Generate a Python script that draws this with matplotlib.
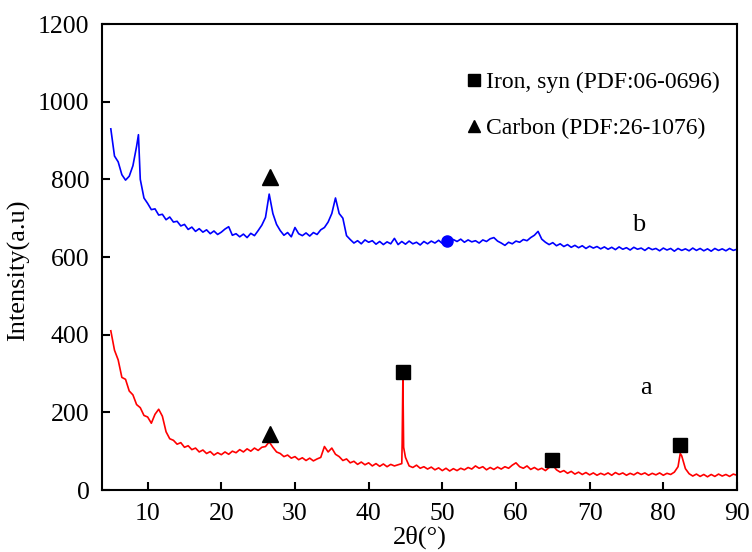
import numpy as np
import matplotlib
matplotlib.use('Agg')
import matplotlib.pyplot as plt
from matplotlib.lines import Line2D

plt.rcParams['font.family'] = ['Liberation Serif', 'DejaVu Serif']
plt.rcParams['mathtext.fontset'] = 'stix'

# 2θ 샘플 위치 (0.5° 간격)
two_theta = np.arange(5.0, 90.01, 0.5)

# 곡선 b (파란색) - 그림에서 읽은 값
b_int = [930, 860, 845, 812, 798, 808, 835, 885, 800, 752,
         738, 722, 724, 708, 710, 696, 703, 690, 692, 680,
         684, 671, 677, 666, 673, 664, 670, 660, 667, 658,
         664, 672, 678, 656, 660, 652, 659, 650, 661, 655,
         668, 682, 702, 762, 712, 684, 668, 656, 663, 652,
         676, 660, 655, 662, 654, 663, 658, 670, 676, 690,
         712, 752, 712, 700, 655, 645, 636, 642, 634, 644,
         638, 642, 633, 640, 632, 639, 634, 648, 632, 640,
         633, 641, 634, 638, 631, 640, 634, 641, 636, 643,
         635, 641, 637, 645, 640, 646, 638, 644, 639, 642,
         636, 644, 640, 647, 650, 641, 636, 630, 638, 634,
         641, 638, 645, 642, 650, 656, 666, 646, 638, 632,
         637, 629, 634, 627, 632, 625, 630, 624, 629, 622,
         628, 623, 627, 621, 626, 620, 625, 619, 626, 620,
         624, 618, 625, 620, 623, 617, 624, 619, 622, 616,
         623, 618, 622, 615, 622, 617, 621, 616, 623, 617,
         622, 616, 621, 615, 622, 617, 621, 616, 622, 617,
         620]
b_peak_x = [8.75]
b_peak_y = [915]

# 곡선 a (빨간색)
a_int = [410, 360, 335, 290, 285, 255, 245, 220, 212, 192,
         188, 172, 195, 208, 190, 150, 132, 128, 118, 122,
         110, 114, 104, 108, 98, 103, 94, 99, 90, 96,
         91, 98, 92, 100, 96, 104, 98, 106, 100, 108,
         102, 110, 112, 124, 110, 98, 94, 86, 90, 82,
         86, 78, 83, 76, 82, 75, 80, 84, 112, 98,
         108, 92, 86, 76, 80, 70, 74, 66, 72, 65,
         70, 62, 68, 61, 67, 60, 66, 62, 65, 68,
         84, 62, 58, 64, 56, 60, 54, 59, 52, 57,
         50, 56, 49, 55, 50, 56, 52, 58, 54, 62,
         56, 60, 52, 58, 53, 59, 54, 60, 56, 64,
         70, 60, 56, 62, 53, 58, 52, 56, 50, 58,
         64, 52, 46, 50, 43, 48, 41, 46, 40, 45,
         39, 44, 38, 43, 39, 44, 38, 45, 40, 44,
         38, 43, 39, 45, 40, 44, 38, 43, 39, 44,
         38, 43, 40, 46, 60, 88, 55, 42, 36, 41,
         35, 40, 34, 40, 35, 41, 36, 40, 35, 41,
         38]
a_peak_x = [44.55, 44.65, 44.75, 82.3]
a_peak_y = [120, 292, 110, 94]

# 표시 기호 위치
carbon_x = [26.6, 26.6]
carbon_y = [806, 144]
iron_x = [44.6, 64.9, 82.2]
iron_y = [305, 78, 115]
dot_x, dot_y = 50.6, 640


def merge(x, y, px, py):
    xx = np.concatenate([x, px])
    yy = np.concatenate([y, py])
    idx = np.argsort(xx)
    return xx[idx], yy[idx]


bx, by = merge(two_theta, b_int, b_peak_x, b_peak_y)
ax_, ay_ = merge(two_theta, a_int, a_peak_x, a_peak_y)

fig = plt.figure(figsize=(7.52, 5.52), dpi=100)
ax = fig.add_axes([0.1356, 0.1123, 0.8444, 0.8442])

ax.plot(bx, by, color='blue', lw=1.2)
ax.plot(ax_, ay_, color='red', lw=1.2)

ax.plot(carbon_x, carbon_y, '^', color='black', ms=11, ls='none')
ax.plot(iron_x, iron_y, 's', color='black', ms=10, ls='none')
ax.plot(dot_x, dot_y, 'o', color='blue', ms=8)

ax.text(76.6, 682, 'b', fontsize=19, ha='center', va='center')
ax.text(77.7, 262, 'a', fontsize=19, ha='center', va='center')

handles = [Line2D([], [], marker='s', color='black', ls='none', ms=8),
           Line2D([], [], marker='^', color='black', ls='none', ms=8)]
ax.legend(handles, ['Iron, syn (PDF:06-0696)', 'Carbon (PDF:26-1076)'],
          loc='upper left', bbox_to_anchor=(0.56, 0.918), frameon=False,
          fontsize=17, handlelength=0.6, handletextpad=0.2,
          labelspacing=1.05, borderaxespad=0)

ax.set_xlim(3.8, 90)
ax.set_ylim(0, 1200)
ax.set_xticks([10, 20, 30, 40, 50, 60, 70, 80, 90])
ax.set_yticks([0, 200, 400, 600, 800, 1000, 1200])
ax.tick_params(direction='in', length=6, width=1.5, labelsize=18.5, pad=9)
for s in ax.spines.values():
    s.set_linewidth(1.5)

ax.set_xlabel('2θ(°)', fontsize=19, labelpad=1)
ax.set_ylabel('Intensity(a.u)', fontsize=19)
ax.yaxis.set_label_coords(-0.113, 0.472)

fig.savefig('out.png', dpi=100)
